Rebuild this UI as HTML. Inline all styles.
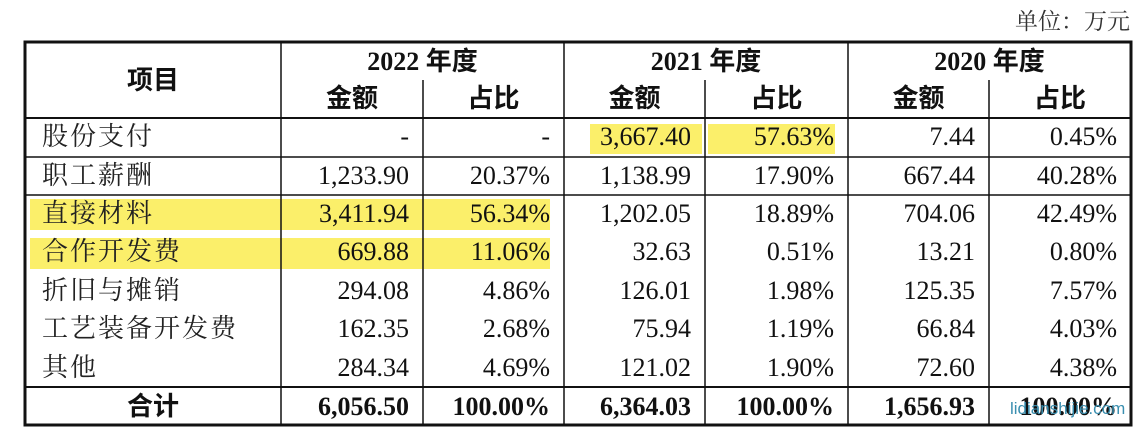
<!DOCTYPE html><html><head><meta charset="utf-8"><style>
body{margin:0;width:1148px;height:444px;background:#fff;position:relative;overflow:hidden;font-family:"Liberation Serif","Noto Serif CJK SC",serif;color:#111}
.t{position:absolute;white-space:nowrap;font-size:26px;line-height:38px}
.b{font-weight:bold;font-family:"Liberation Serif","Noto Sans CJK SC",serif}
.h{position:absolute;background:#fbef6a}
</style></head><body>
<div class="t" style="right:18px;top:3px;font-size:23px;color:#333">单位：万元</div>
<div class="h" style="left:590px;top:124px;width:112px;height:30px"></div>
<div class="h" style="left:708px;top:124px;width:127px;height:30px"></div>
<div class="h" style="left:30px;top:199px;width:520px;height:31px"></div>
<div class="h" style="left:30px;top:238px;width:520px;height:31px"></div>
<svg style="position:absolute;left:0;top:0" width="1148" height="444">
<g stroke="#111" fill="none">
<rect x="25" y="42" width="1106" height="383" stroke-width="3"/>
<line x1="25" y1="118" x2="1131" y2="118" stroke-width="2"/>
<line x1="25" y1="157" x2="1131" y2="157" stroke-width="1.5"/>
<line x1="25" y1="195" x2="1131" y2="195" stroke-width="1.5"/>
<line x1="25" y1="387" x2="1131" y2="387" stroke-width="2"/>
<line x1="281" y1="42" x2="281" y2="425" stroke-width="1.5"/>
<line x1="564" y1="42" x2="564" y2="425" stroke-width="1.5"/>
<line x1="848" y1="42" x2="848" y2="425" stroke-width="1.5"/>
<line x1="423" y1="80" x2="423" y2="425" stroke-width="1.5"/>
<line x1="705" y1="80" x2="705" y2="425" stroke-width="1.5"/>
<line x1="989" y1="80" x2="989" y2="425" stroke-width="1.5"/>
</g></svg>
<div class="t b" style="left:25px;width:256px;text-align:center;top:62px">项目</div>
<div class="t b" style="left:281px;width:283px;text-align:center;top:43px">2022 年度</div>
<div class="t b" style="left:564px;width:284px;text-align:center;top:43px">2021 年度</div>
<div class="t b" style="left:848px;width:283px;text-align:center;top:43px">2020 年度</div>
<div class="t b" style="left:281px;width:142px;text-align:center;top:80px">金额</div>
<div class="t b" style="left:423px;width:141px;text-align:center;top:80px">占比</div>
<div class="t b" style="left:564px;width:141px;text-align:center;top:80px">金额</div>
<div class="t b" style="left:705px;width:143px;text-align:center;top:80px">占比</div>
<div class="t b" style="left:848px;width:141px;text-align:center;top:80px">金额</div>
<div class="t b" style="left:989px;width:142px;text-align:center;top:80px">占比</div>
<div id="rows"></div>
<script>
var R=[["股份支付","-","-","3,667.40","57.63%","7.44","0.45%"],
["职工薪酬","1,233.90","20.37%","1,138.99","17.90%","667.44","40.28%"],
["直接材料","3,411.94","56.34%","1,202.05","18.89%","704.06","42.49%"],
["合作开发费","669.88","11.06%","32.63","0.51%","13.21","0.80%"],
["折旧与摊销","294.08","4.86%","126.01","1.98%","125.35","7.57%"],
["工艺装备开发费","162.35","2.68%","75.94","1.19%","66.84","4.03%"],
["其他","284.34","4.69%","121.02","1.90%","72.60","4.38%"],
["合计","6,056.50","100.00%","6,364.03","100.00%","1,656.93","100.00%"]];
var rt=[423,564,705,848,989,1131],h="",ys=[118,157,195,233,272,310,349,387];
R.forEach(function(r,i){var y=ys[i]+(i==7?1:0),bold=i==7?" b":"";
if(i==7)h+='<div class="t b" style="left:25px;width:256px;text-align:center;top:'+y+'px">'+r[0]+'</div>';
else h+='<div class="t" style="left:42px;top:'+y+'px;letter-spacing:2px;color:#222">'+r[0]+'</div>';
for(var j=1;j<7;j++)h+='<div class="t'+bold+'" style="right:'+(1148-rt[j-1]+14)+'px;top:'+y+'px">'+r[j]+'</div>';});
document.getElementById("rows").innerHTML=h;
</script>
<div class="t" style="left:1010px;top:398px;font-size:17px;line-height:22px;color:#3a8fb0;font-family:'Liberation Sans',sans-serif">lidianshijie.com</div>
</body></html>
